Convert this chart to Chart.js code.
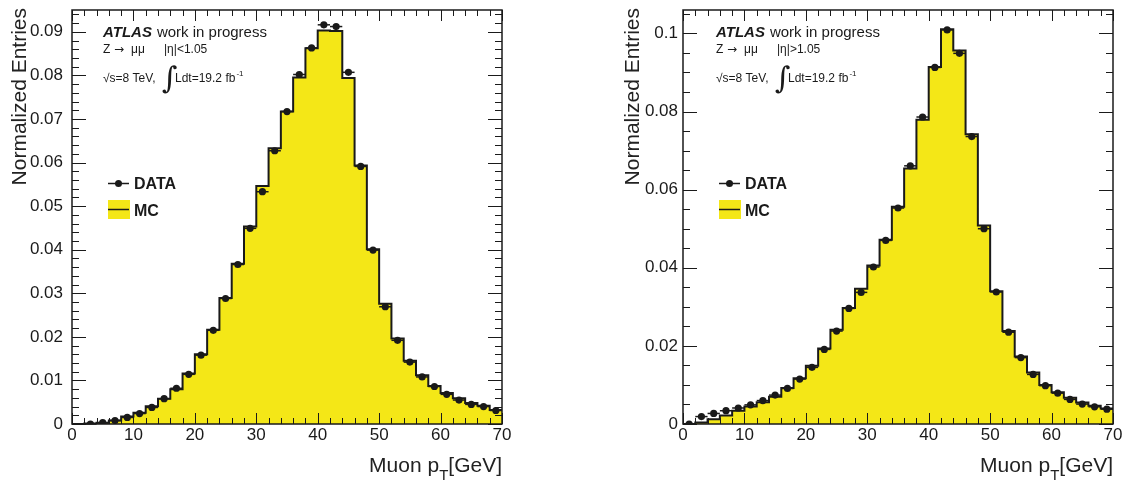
<!DOCTYPE html>
<html>
<head>
<meta charset="utf-8">
<script src="https://cdn.jsdelivr.net/npm/chart.js@4/dist/chart.umd.min.js"></script>
<style>
  html, body { margin: 0; padding: 0; background: #ffffff; }
  #wrap { position: relative; width: 1126px; height: 484px; overflow: hidden; }
  .panel { position: absolute; top: 0; width: 563px; height: 484px; }
  #p1 { left: 0; }
  #p2 { left: 563px; }
</style>
</head>
<body>
<div id="wrap">
  <div class="panel" id="p1"><canvas id="c1" width="563" height="484"></canvas></div>
  <div class="panel" id="p2"><canvas id="c2" width="563" height="484"></canvas></div>
</div>
<script>
// Muon pT binning [GeV], 2 GeV bins
const binEdges = [0, 2, 4, 6, 8, 10, 12, 14, 16, 18, 20, 22, 24, 26, 28, 30, 32, 34,
                  36, 38, 40, 42, 44, 46, 48, 50, 52, 54, 56, 58, 60, 62, 64, 66, 68, 70];

// |eta| < 1.05 : simulation (histogram) and data (points), normalized
const mcCentral = [0.0000, 0.0001, 0.0003, 0.0008, 0.0017, 0.0026, 0.0041, 0.0058, 0.0080, 0.0116,
                   0.0160, 0.0216, 0.0289, 0.0368, 0.0453, 0.0546, 0.0633, 0.0717, 0.0795, 0.0862,
                   0.0903, 0.0902, 0.0794, 0.0593, 0.0401, 0.0276, 0.0196, 0.0145, 0.0112, 0.0087,
                   0.0071, 0.0059, 0.0048, 0.0042, 0.0032];
const dataCentral = [null, 0.0000, 0.0003, 0.0008, 0.0015, 0.0024, 0.0038, 0.0058, 0.0082, 0.0114,
                     0.0158, 0.0215, 0.0288, 0.0366, 0.0449, 0.0533, 0.0627, 0.0717, 0.0802, 0.0863,
                     0.0916, 0.0912, 0.0807, 0.0591, 0.0399, 0.0269, 0.0192, 0.0142, 0.0108, 0.0086,
                     0.0068, 0.0055, 0.0045, 0.0040, 0.0031];

// |eta| > 1.05
const mcForward = [0.0000, 0.0004, 0.0012, 0.0022, 0.0034, 0.0045, 0.0056, 0.0070, 0.0092, 0.0117,
                   0.0149, 0.0193, 0.0241, 0.0297, 0.0346, 0.0406, 0.0472, 0.0556, 0.0654, 0.0779,
                   0.0914, 0.1011, 0.0956, 0.0742, 0.0508, 0.0340, 0.0238, 0.0173, 0.0132, 0.0100,
                   0.0081, 0.0067, 0.0055, 0.0047, 0.0040];
const dataForward = [0.0000, 0.0019, 0.0027, 0.0034, 0.0041, 0.0049, 0.0060, 0.0074, 0.0091, 0.0115,
                     0.0145, 0.0191, 0.0238, 0.0296, 0.0337, 0.0402, 0.0470, 0.0553, 0.0661, 0.0786,
                     0.0913, 0.1009, 0.0949, 0.0736, 0.0500, 0.0338, 0.0235, 0.0170, 0.0127, 0.0098,
                     0.0079, 0.0063, 0.0051, 0.0044, 0.0038];

// Axis ticks and labels
const xTicks = [0, 10, 20, 30, 40, 50, 60, 70];
const xTickLabels = ['0', '10', '20', '30', '40', '50', '60', '70'];
const yTicksCentral = [0, 0.01, 0.02, 0.03, 0.04, 0.05, 0.06, 0.07, 0.08, 0.09];
const yLabelsCentral = ['0', '0.01', '0.02', '0.03', '0.04', '0.05', '0.06', '0.07', '0.08', '0.09'];
const yTicksForward = [0, 0.02, 0.04, 0.06, 0.08, 0.1];
const yLabelsForward = ['0', '0.02', '0.04', '0.06', '0.08', '0.1'];

const FONT = '"Liberation Sans", Arial, Helvetica, sans-serif';
const YELLOW = '#f4e717';
const INK = '#1a1a1a';

// Histogram step points: each bin edge carries the bin content on its right
function stepPoints(values) {
  return binEdges.map((e, i) => ({ x: e, y: values[Math.min(i, values.length - 1)] }));
}
function centrePoints(values) {
  return values.map((v, i) => ({ x: (binEdges[i] + binEdges[i + 1]) / 2, y: v }));
}

// Frame, inward ticks, error bars, legend and labels
const decorPlugin = {
  id: 'decor',
  afterDatasetsDraw(chart) {
    const cfg = chart.options.plugins.decor;
    const ctx = chart.ctx;
    const a = chart.chartArea;
    const xs = chart.scales.x, ys = chart.scales.y;

    // horizontal bin-width bars on the data points
    const dset = chart.data.datasets[0];
    ctx.save();
    ctx.strokeStyle = INK;
    ctx.lineWidth = 1.5;
    dset.data.forEach((p, i) => {
      if (p.y === null) return;
      const x1 = xs.getPixelForValue(binEdges[i]);
      const x2 = xs.getPixelForValue(binEdges[i + 1]);
      const y = ys.getPixelForValue(p.y);
      ctx.beginPath();
      ctx.moveTo(x1, y);
      ctx.lineTo(x2, y);
      ctx.stroke();
    });
    ctx.restore();

    // frame
    ctx.save();
    ctx.strokeStyle = INK;
    ctx.lineWidth = 1.5;
    ctx.strokeRect(a.left, a.top, a.right - a.left, a.bottom - a.top);

    // x ticks (bottom and top), minor every 2 GeV
    ctx.lineWidth = 1;
    for (let v = 0; v <= 70.001; v += 2) {
      const px = Math.round(xs.getPixelForValue(v)) + 0.5;
      const major = Math.abs(v % 10) < 1e-6;
      const len = major ? 11 : 6;
      ctx.beginPath();
      ctx.moveTo(px, a.bottom); ctx.lineTo(px, a.bottom - len);
      ctx.moveTo(px, a.top); ctx.lineTo(px, a.top + len);
      ctx.stroke();
    }
    // y ticks (left and right)
    const step = cfg.yMinor, maj = cfg.yMajor;
    for (let k = 0; k * step <= ys.max + 1e-9; k++) {
      const v = k * step;
      const py = Math.round(ys.getPixelForValue(v)) + 0.5;
      const major = Math.abs(v / maj - Math.round(v / maj)) < 1e-6;
      const len = major ? 14 : 7;
      ctx.beginPath();
      ctx.moveTo(a.left, py); ctx.lineTo(a.left + len, py);
      ctx.moveTo(a.right, py); ctx.lineTo(a.right - len, py);
      ctx.stroke();
    }
    ctx.restore();
  },
  afterDraw(chart) {
    const cfg = chart.options.plugins.decor;
    const ctx = chart.ctx;
    const a = chart.chartArea;
    ctx.save();
    ctx.fillStyle = INK;
    ctx.textAlign = 'left';
    ctx.textBaseline = 'alphabetic';

    // experiment label block
    const x0 = a.left + cfg.textDx;
    ctx.font = 'italic bold 15px ' + FONT;
    ctx.fillText('ATLAS', x0, 37);
    const wA = ctx.measureText('ATLAS').width;
    ctx.font = '15px ' + FONT;
    ctx.fillText('work in progress', x0 + wA + 5, 37);

    ctx.font = '12px ' + FONT;
    ctx.fillText('Z', x0, 53);
    ctx.font = '12px "DejaVu Sans", sans-serif';
    ctx.fillText('\u2192', x0 + 11, 53);
    ctx.font = '12px ' + FONT;
    ctx.fillText('\u03bc\u03bc', x0 + 28, 53);
    ctx.fillText(cfg.etaText, x0 + 61, 53);

    ctx.fillText('\u221as=8 TeV,', x0, 82);
    ctx.font = '30px "DejaVu Serif", serif';
    ctx.fillText('\u222b', x0 + 59, 88);
    ctx.font = '12px ' + FONT;
    ctx.fillText('Ldt=19.2 fb', x0 + 72, 82);
    const wL = ctx.measureText('Ldt=19.2 fb').width;
    ctx.font = '8px ' + FONT;
    ctx.fillText('-1', x0 + 72 + wL + 1, 76);

    // legend
    const lx = a.left + 36;
    ctx.strokeStyle = INK;
    ctx.lineWidth = 1.5;
    ctx.beginPath();
    ctx.moveTo(lx, 183.5); ctx.lineTo(lx + 21, 183.5);
    ctx.stroke();
    ctx.beginPath();
    ctx.arc(lx + 10.5, 183.5, 3.5, 0, Math.PI * 2);
    ctx.fill();
    ctx.font = 'bold 16px ' + FONT;
    ctx.fillText('DATA', lx + 26, 189);

    ctx.fillStyle = YELLOW;
    ctx.fillRect(lx, 200, 22, 19);
    ctx.beginPath();
    ctx.moveTo(lx, 209.5); ctx.lineTo(lx + 21, 209.5);
    ctx.stroke();
    ctx.fillStyle = INK;
    ctx.fillText('MC', lx + 26, 216);

    // y axis title, right-aligned to the top
    ctx.save();
    ctx.fillStyle = '#222';
    ctx.font = '21px ' + FONT;
    ctx.translate(cfg.yTitleX, 8);
    ctx.rotate(-Math.PI / 2);
    ctx.textAlign = 'right';
    ctx.textBaseline = 'middle';
    ctx.fillText('Normalized Entries', 0, 0);
    ctx.restore();

    // x axis title with subscript, right-aligned to the frame
    ctx.fillStyle = '#222';
    ctx.font = '21px ' + FONT;
    const t1 = 'Muon p', t3 = '[GeV]';
    const w1 = ctx.measureText(t1).width, w3 = ctx.measureText(t3).width;
    ctx.font = '15px ' + FONT;
    const w2 = ctx.measureText('T').width;
    const start = a.right - (w1 + w2 + w3);
    ctx.font = '21px ' + FONT;
    ctx.fillText(t1, start, 472);
    ctx.font = '15px ' + FONT;
    ctx.fillText('T', start + w1, 480);
    ctx.font = '21px ' + FONT;
    ctx.fillText(t3, start + w1 + w2, 472);
    ctx.restore();
  }
};

function makeChart(canvasId, mc, data, opts) {
  return new Chart(document.getElementById(canvasId), {
    type: 'line',
    data: {
      datasets: [
        {
          label: 'DATA',
          data: centrePoints(data),
          showLine: false,
          pointRadius: 3.6,
          pointHoverRadius: 3.6,
          pointBackgroundColor: INK,
          pointBorderColor: INK,
          pointBorderWidth: 0,
          order: 0
        },
        {
          label: 'MC',
          data: stepPoints(mc),
          stepped: 'before',
          borderColor: INK,
          borderWidth: 2,
          backgroundColor: YELLOW,
          fill: 'origin',
          pointRadius: 0,
          order: 1
        }
      ]
    },
    options: {
      responsive: false,
      animation: false,
      events: [],
      layout: { padding: { left: 0, right: opts.padRight, top: 10, bottom: 0 } },
      plugins: {
        legend: { display: false },
        tooltip: { enabled: false },
        decor: opts.decor
      },
      scales: {
        x: {
          type: 'linear',
          min: 0,
          max: 70,
          grid: { display: false, drawTicks: false },
          border: { display: false },
          afterFit: s => { s.height = 60; s.paddingLeft = 0; s.paddingRight = 0; },
          afterBuildTicks: s => { s.ticks = xTicks.map(v => ({ value: v })); },
          ticks: {
            padding: 1,
            color: INK,
            font: { family: FONT, size: 17 },
            maxRotation: 0,
            callback: (v, i) => xTickLabels[i]
          }
        },
        y: {
          type: 'linear',
          min: 0,
          max: opts.yMax,
          grid: { display: false, drawTicks: false },
          border: { display: false },
          afterFit: s => { s.width = opts.yWidth; s.paddingTop = 0; s.paddingBottom = 0; },
          afterBuildTicks: s => { s.ticks = opts.yTicks.map(v => ({ value: v })); },
          ticks: {
            padding: opts.yPad,
            color: INK,
            font: { family: FONT, size: 17 },
            callback: (v, i) => opts.yLabels[i]
          }
        }
      }
    },
    plugins: [decorPlugin]
  });
}

makeChart('c1', mcCentral, dataCentral, {
  padRight: 61, yWidth: 72, yPad: 9, yMax: 0.095,
  yTicks: yTicksCentral, yLabels: yLabelsCentral,
  decor: { textDx: 31, etaText: '|\u03b7|<1.05', yMinor: 0.002, yMajor: 0.01, yTitleX: 20 }
});

makeChart('c2', mcForward, dataForward, {
  padRight: 13, yWidth: 120, yPad: 5, yMax: 0.106,
  yTicks: yTicksForward, yLabels: yLabelsForward,
  decor: { textDx: 33, etaText: '|\u03b7|>1.05', yMinor: 0.005, yMajor: 0.02, yTitleX: 70 }
});
</script>
</body>
</html>
